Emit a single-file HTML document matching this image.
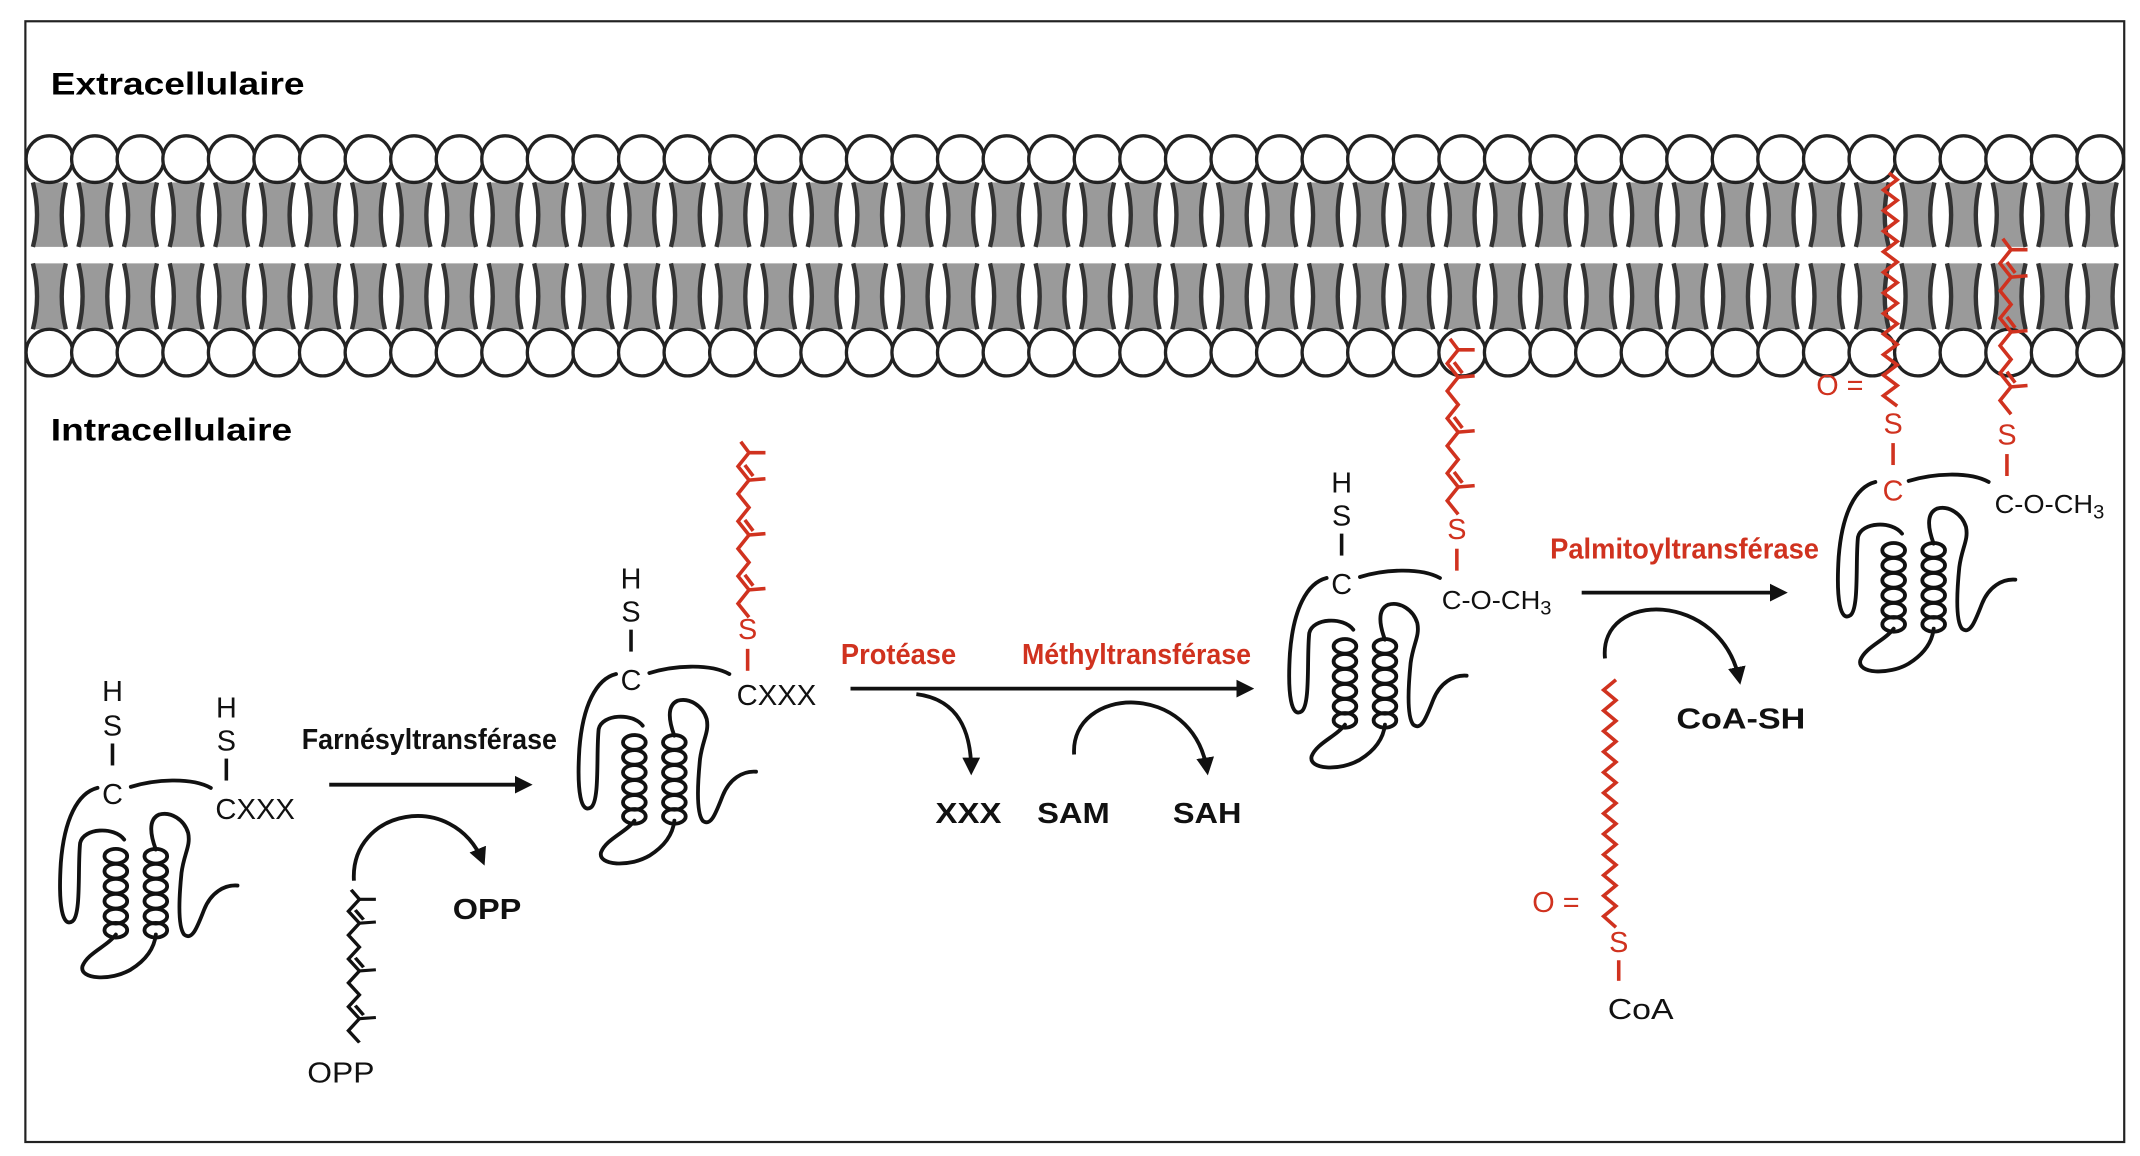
<!DOCTYPE html>
<html><head><meta charset="utf-8"><style>
html,body{margin:0;padding:0;background:#fff}
svg{display:block}
text{font-family:"Liberation Sans",Arial,sans-serif}
</style></head><body>
<svg width="2140" height="1156" viewBox="0 0 1560 842.7" preserveAspectRatio="none" xmlns="http://www.w3.org/2000/svg" xmlns:xlink="http://www.w3.org/1999/xlink">
<rect x="0" y="0" width="1560" height="843" fill="#fff"/>
<defs>
<marker id="ah" markerWidth="13" markerHeight="13" refX="9" refY="6" orient="auto" markerUnits="userSpaceOnUse" viewBox="0 0 12 12">
<path d="M0,0 L12,6 L0,12 Z" fill="#111"/></marker>
<g id="lip">
<path d="M-12,133 Q-6,157 -12,180 L12,180 Q6,157 12,133 Z" fill="#9a9a9a"/>
<path d="M-12,192 Q-6,216 -12,240 L12,240 Q6,216 12,192 Z" fill="#9a9a9a"/>
<g fill="none" stroke="#333" stroke-width="3.2">
<path d="M-12,133 Q-6,157 -12,180"/><path d="M12,133 Q6,157 12,180"/>
<path d="M-12,192 Q-6,216 -12,240"/><path d="M12,192 Q6,216 12,240"/>
</g>
<circle cx="0" cy="116" r="17" fill="#fff" stroke="#222" stroke-width="2.4"/>
<circle cx="0" cy="257" r="17" fill="#fff" stroke="#222" stroke-width="2.4"/>
</g>
<g id="prot" fill="none" stroke="#111" stroke-linecap="round">
<g transform="scale(0.243) translate(-205,-340)" stroke-width="11.5">
<path d="M160,325 C100,340 60,420 50,550 C42,680 55,745 85,725 C112,705 100,560 108,490 C118,445 210,440 240,480"/>
<path d="M260,322 C330,300 440,292 500,325"/>
<path d="M215,765 C190,800 130,820 115,860 C105,900 200,905 260,870 C300,845 330,810 335,765"/>
<path d="M335,510 C320,470 310,420 345,405 C380,395 420,420 432,460 C440,500 420,520 412,580 C405,650 400,740 420,765 C445,785 460,740 480,690 C500,640 540,615 580,618"/>
<g id="hx"><ellipse cx="215" cy="530" rx="34" ry="22"/><ellipse cx="215" cy="575" rx="34" ry="22"/><ellipse cx="215" cy="620" rx="34" ry="22"/><ellipse cx="215" cy="665" rx="34" ry="22"/><ellipse cx="215" cy="710" rx="34" ry="22"/><ellipse cx="215" cy="752" rx="34" ry="22"/></g>
<use xlink:href="#hx" href="#hx" x="120"/>
</g></g>
<g id="farn" fill="none" stroke="currentColor" stroke-width="2.6">
<path d="M0,0 l-8,-10 l8,-10 l-8,-10 l8,-10 l-8,-10 l8,-10 l-8,-10 l8,-10 l-8,-10 l8,-10 l-8,-10 l8,-10 l-6,-8"/>
<path d="M0,-20 l12,-1 M0,-60 l12,-1 M0,-100 l12,-1 M0,-120 l12,0"/>
<path d="M3,-23 l-6,-8 M3,-63 l-6,-8 M3,-103 l-6,-8"/>
</g>
</defs>
<rect x="18.5" y="15.5" width="1530" height="817" fill="none" stroke="#222" stroke-width="1.6"/>
<g>
<use href="#lip" x="36"/><use href="#lip" x="69.2"/><use href="#lip" x="102.4"/><use href="#lip" x="135.7"/><use href="#lip" x="168.9"/><use href="#lip" x="202.1"/><use href="#lip" x="235.3"/><use href="#lip" x="268.6"/><use href="#lip" x="301.8"/><use href="#lip" x="335"/><use href="#lip" x="368.2"/><use href="#lip" x="401.4"/><use href="#lip" x="434.7"/><use href="#lip" x="467.9"/><use href="#lip" x="501.1"/><use href="#lip" x="534.3"/><use href="#lip" x="567.6"/><use href="#lip" x="600.8"/><use href="#lip" x="634"/><use href="#lip" x="667.2"/><use href="#lip" x="700.4"/><use href="#lip" x="733.7"/><use href="#lip" x="766.9"/><use href="#lip" x="800.1"/><use href="#lip" x="833.3"/><use href="#lip" x="866.6"/><use href="#lip" x="899.8"/><use href="#lip" x="933"/><use href="#lip" x="966.2"/><use href="#lip" x="999.4"/><use href="#lip" x="1032.7"/><use href="#lip" x="1065.9"/><use href="#lip" x="1099.1"/><use href="#lip" x="1132.3"/><use href="#lip" x="1165.6"/><use href="#lip" x="1198.8"/><use href="#lip" x="1232"/><use href="#lip" x="1265.2"/><use href="#lip" x="1298.4"/><use href="#lip" x="1331.7"/><use href="#lip" x="1364.9"/><use href="#lip" x="1398.1"/><use href="#lip" x="1431.3"/><use href="#lip" x="1464.6"/><use href="#lip" x="1497.8"/><use href="#lip" x="1531"/>
</g>
<text x="37" y="69" font-size="23" font-weight="bold" textLength="185" lengthAdjust="spacingAndGlyphs">Extracellulaire</text>
<text x="37" y="321" font-size="23" font-weight="bold" textLength="176" lengthAdjust="spacingAndGlyphs">Intracellulaire</text>

<use href="#prot" x="82" y="578"/>
<use href="#prot" x="460" y="495"/>
<use href="#prot" x="978" y="425"/>
<use href="#prot" x="1378" y="355"/>

<g font-size="21" fill="#111">
<text x="82" y="511" text-anchor="middle">H</text><text x="82" y="536" text-anchor="middle">S</text>
<text x="82" y="586" text-anchor="middle">C</text>
<text x="165" y="523" text-anchor="middle">H</text><text x="165" y="547" text-anchor="middle">S</text>
<text x="157" y="597" textLength="58" lengthAdjust="spacingAndGlyphs">CXXX</text>
<text x="460" y="429" text-anchor="middle">H</text><text x="460" y="453" text-anchor="middle">S</text>
<text x="460" y="503" text-anchor="middle">C</text>
<text x="537" y="514" textLength="58" lengthAdjust="spacingAndGlyphs">CXXX</text>
<text x="978" y="359" text-anchor="middle">H</text><text x="978" y="383" text-anchor="middle">S</text>
<text x="978" y="433" text-anchor="middle">C</text>
<text x="1051" y="444" font-size="19" textLength="80" lengthAdjust="spacingAndGlyphs">C-O-CH<tspan font-size="14" dy="4">3</tspan></text>
<text x="1454" y="374" font-size="19" textLength="80" lengthAdjust="spacingAndGlyphs">C-O-CH<tspan font-size="14" dy="4">3</tspan></text>
<text x="224" y="789" textLength="49" lengthAdjust="spacingAndGlyphs">OPP</text>
<text x="1172" y="743" textLength="48" lengthAdjust="spacingAndGlyphs">CoA</text>
</g>
<g fill="#d0321f" font-size="21">
<text x="545" y="466" text-anchor="middle">S</text>
<text x="1062" y="393" text-anchor="middle">S</text>
<text x="1380" y="316" text-anchor="middle">S</text>
<text x="1380" y="365" text-anchor="middle">C</text>
<text x="1463" y="324" text-anchor="middle">S</text>
<text x="1324" y="288">O =</text>
<text x="1117" y="665">O =</text>
<text x="1180" y="694" text-anchor="middle">S</text>
</g>
<g stroke="#111" stroke-width="2.6">
<line x1="82" y1="542" x2="82" y2="558"/><line x1="165" y1="553" x2="165" y2="569"/>
<line x1="460" y1="459" x2="460" y2="475"/><line x1="978" y1="389" x2="978" y2="405"/>
</g>
<g stroke="#d0321f" stroke-width="2.6">
<line x1="545" y1="473" x2="545" y2="489"/><line x1="1062" y1="400" x2="1062" y2="416"/>
<line x1="1380" y1="323" x2="1380" y2="339"/><line x1="1463" y1="331" x2="1463" y2="347"/>
<line x1="1180" y1="700" x2="1180" y2="715"/>
</g>
<use href="#farn" x="546" y="450" style="color:#d0321f"/>
<use href="#farn" x="1063" y="375" style="color:#d0321f"/>
<use href="#farn" x="1466" y="302" style="color:#d0321f"/>
<g transform="translate(262,760) scale(1,0.87)" style="color:#111"><use href="#farn"/></g>
<g fill="none" stroke="#d0321f" stroke-width="2.6">
<path d="M1383,296 l-10,-7.5 l10,-7.5 l-10,-7.5 l10,-7.5 l-10,-7.5 l10,-7.5 l-10,-7.5 l10,-7.5 l-10,-7.5 l10,-7.5 l-10,-7.5 l10,-7.5 l-10,-7.5 l10,-7.5 l-10,-7.5 l10,-7.5 l-10,-7.5 l10,-7.5 l-10,-7.5 l10,-7.5 l-10,-7.5 l10,-7.5 l-6,-5"/>
<path d="M1178,676 l-9,-8 l9,-7.5 l-9,-7.5 l9,-7.5 l-9,-7.5 l9,-7.5 l-9,-7.5 l9,-7.5 l-9,-7.5 l9,-7.5 l-9,-7.5 l9,-7.5 l-9,-7.5 l9,-7.5 l-9,-7.5 l9,-7.5 l-9,-7.5 l9,-7.5 l-9,-7.5 l9,-7.5 l-9,-7.5 l9,-7.5 l-9,-7.5 l9,-7.5"/>
</g>

<g fill="none" stroke="#111" stroke-width="2.8">
<line x1="240" y1="572" x2="385" y2="572" marker-end="url(#ah)"/>
<path d="M258,642 C255,590 330,575 352,628" marker-end="url(#ah)"/>
<line x1="620" y1="502" x2="911" y2="502" marker-end="url(#ah)"/>
<path d="M668,506 C700,510 708,535 708,562" marker-end="url(#ah)"/>
<path d="M783,550 C780,500 870,495 880,562" marker-end="url(#ah)"/>
<line x1="1153" y1="432" x2="1300" y2="432" marker-end="url(#ah)"/>
<path d="M1170,480 C1165,430 1255,430 1268,496" marker-end="url(#ah)"/>
</g>
<g font-size="21" font-weight="bold">
<text x="220" y="546" fill="#111" textLength="186" lengthAdjust="spacingAndGlyphs">Farnésyltransférase</text>
<text x="330" y="670" fill="#111" textLength="50" lengthAdjust="spacingAndGlyphs">OPP</text>
<text x="613" y="484" fill="#d0321f" textLength="84" lengthAdjust="spacingAndGlyphs">Protéase</text>
<text x="745" y="484" fill="#d0321f" textLength="167" lengthAdjust="spacingAndGlyphs">Méthyltransférase</text>
<text x="682" y="600" fill="#111" textLength="48" lengthAdjust="spacingAndGlyphs">XXX</text>
<text x="756" y="600" fill="#111" textLength="53" lengthAdjust="spacingAndGlyphs">SAM</text>
<text x="855" y="600" fill="#111" textLength="50" lengthAdjust="spacingAndGlyphs">SAH</text>
<text x="1130" y="407" fill="#d0321f" textLength="196" lengthAdjust="spacingAndGlyphs">Palmitoyltransférase</text>
<text x="1222" y="531" fill="#111" textLength="94" lengthAdjust="spacingAndGlyphs">CoA-SH</text>
</g>
</svg>
</body></html>
